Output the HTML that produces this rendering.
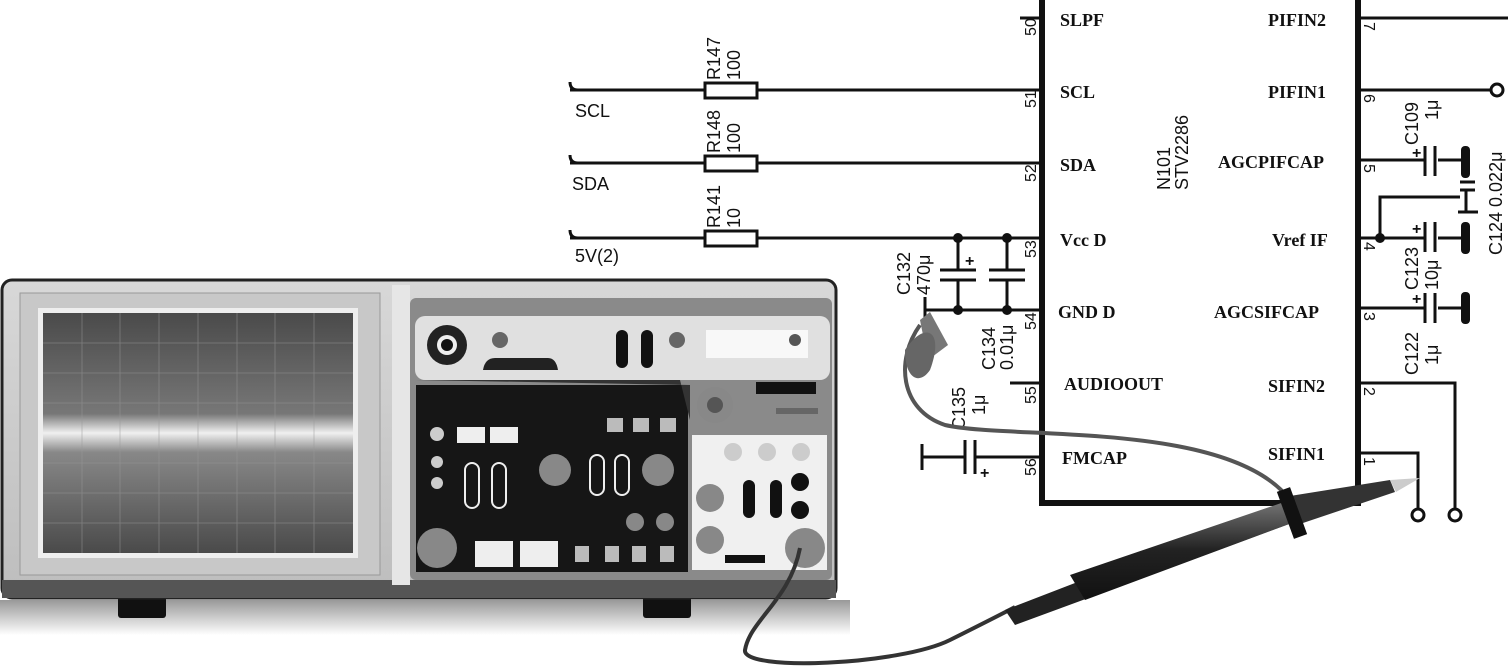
<!DOCTYPE html>
<html><head><meta charset="utf-8"><style>
html,body{margin:0;padding:0;background:#fff;width:1508px;height:669px;overflow:hidden}
svg{display:block}
.t{font-family:"Liberation Serif",serif;font-weight:bold;font-size:18px;fill:#111}
.s{font-family:"Liberation Sans",sans-serif;font-size:18px;fill:#111}
.n{font-family:"Liberation Sans",sans-serif;font-size:16px;fill:#111}
</style></head><body>
<svg width="1508" height="669" viewBox="0 0 1508 669" xmlns="http://www.w3.org/2000/svg">
<defs>
<linearGradient id="scr" x1="0" y1="0" x2="0" y2="1">
<stop offset="0" stop-color="#4a4a4a"/><stop offset="0.42" stop-color="#777"/><stop offset="0.5" stop-color="#f0f0f0"/><stop offset="0.58" stop-color="#888"/><stop offset="1" stop-color="#4a4a4a"/></linearGradient>
<linearGradient id="body" x1="0" y1="0" x2="0" y2="1"><stop offset="0" stop-color="#d8d8d8"/><stop offset="1" stop-color="#bdbdbd"/></linearGradient>
<linearGradient id="probe" x1="0" y1="0" x2="0" y2="1"><stop offset="0" stop-color="#777"/><stop offset="0.5" stop-color="#222"/><stop offset="1" stop-color="#111"/></linearGradient>
<linearGradient id="shadow" x1="0" y1="0" x2="0" y2="1"><stop offset="0" stop-color="#999"/><stop offset="1" stop-color="#fff"/></linearGradient>
</defs>
<g stroke="#111" stroke-width="3" fill="none">
<path d="M1042,0 V503 H1358 V0" stroke-width="6"/>
<line x1="570" y1="90" x2="1042" y2="90"/>
<line x1="570" y1="163" x2="1042" y2="163"/>
<line x1="570" y1="238" x2="1042" y2="238"/>
<path d="M570,82 Q570,90 578,90 M570,155 Q570,163 578,163 M570,230 Q570,238 578,238"/>
<line x1="1020" y1="18" x2="1042" y2="18"/>
<line x1="958" y1="238" x2="958" y2="270"/><line x1="958" y1="280" x2="958" y2="310"/>
<line x1="1007" y1="238" x2="1007" y2="270"/><line x1="1007" y1="280" x2="1007" y2="310"/>
<line x1="940" y1="270" x2="976" y2="270"/><line x1="940" y1="280" x2="976" y2="280"/>
<line x1="989" y1="270" x2="1025" y2="270"/><line x1="989" y1="280" x2="1025" y2="280"/>
<line x1="925" y1="310" x2="1042" y2="310"/><line x1="925" y1="297" x2="925" y2="322"/>
<line x1="1010" y1="383" x2="1042" y2="383"/>
<line x1="922" y1="457" x2="965" y2="457"/><line x1="975" y1="457" x2="1042" y2="457"/>
<line x1="922" y1="444" x2="922" y2="470"/>
<line x1="965" y1="440" x2="965" y2="474"/><line x1="975" y1="440" x2="975" y2="474"/>
<line x1="1358" y1="18" x2="1508" y2="18"/>
<line x1="1358" y1="90" x2="1490" y2="90"/>
<circle cx="1497" cy="90" r="6"/>
<line x1="1358" y1="160" x2="1425" y2="160"/><line x1="1438" y1="160" x2="1466" y2="160"/>
<line x1="1425" y1="146" x2="1425" y2="176"/><line x1="1435" y1="146" x2="1435" y2="176"/>
<line x1="1358" y1="238" x2="1425" y2="238"/><line x1="1438" y1="238" x2="1466" y2="238"/>
<line x1="1425" y1="222" x2="1425" y2="252"/><line x1="1435" y1="222" x2="1435" y2="252"/>
<path d="M1380,238 V197 H1460"/>
<line x1="1460" y1="182" x2="1475" y2="182"/><line x1="1460" y1="190" x2="1475" y2="190"/>
<line x1="1466" y1="190" x2="1466" y2="212"/><line x1="1458" y1="212" x2="1478" y2="212"/>
<line x1="1358" y1="308" x2="1425" y2="308"/><line x1="1438" y1="308" x2="1466" y2="308"/>
<line x1="1425" y1="293" x2="1425" y2="323"/><line x1="1435" y1="293" x2="1435" y2="323"/>
<path d="M1358,383 H1455 V508"/><circle cx="1455" cy="515" r="6"/>
<path d="M1358,453 H1418 V508"/><circle cx="1418" cy="515" r="6"/>
</g>
<g fill="#111">
<rect x="705" y="83" width="52" height="15" fill="#fff" stroke="#111" stroke-width="3"/>
<rect x="705" y="156" width="52" height="15" fill="#fff" stroke="#111" stroke-width="3"/>
<rect x="705" y="231" width="52" height="15" fill="#fff" stroke="#111" stroke-width="3"/>
<circle cx="958" cy="238" r="5"/><circle cx="1007" cy="238" r="5"/>
<circle cx="958" cy="310" r="5"/><circle cx="1007" cy="310" r="5"/>
<circle cx="1380" cy="238" r="5"/>
<rect x="1461" y="146" width="9" height="32" rx="4"/>
<rect x="1461" y="222" width="9" height="32" rx="4"/>
<rect x="1461" y="292" width="9" height="32" rx="4"/>
</g>
<text class="s" x="575" y="117">SCL</text>
<text class="s" x="572" y="190">SDA</text>
<text class="s" x="575" y="262">5V(2)</text>
<text class="s" transform="translate(720,80) rotate(-90)">R147</text>
<text class="s" transform="translate(740,80) rotate(-90)">100</text>
<text class="s" transform="translate(720,153) rotate(-90)">R148</text>
<text class="s" transform="translate(740,153) rotate(-90)">100</text>
<text class="s" transform="translate(720,228) rotate(-90)">R141</text>
<text class="s" transform="translate(740,228) rotate(-90)">10</text>
<text class="s" transform="translate(910,295) rotate(-90)">C132</text>
<text class="s" transform="translate(930,295) rotate(-90)">470μ</text>
<text class="s" transform="translate(995,370) rotate(-90)">C134</text>
<text class="s" transform="translate(1013,370) rotate(-90)">0.01μ</text>
<text class="s" transform="translate(965,430) rotate(-90)">C135</text>
<text class="s" transform="translate(985,415) rotate(-90)">1μ</text>
<text class="s" transform="translate(1170,190) rotate(-90)">N101</text>
<text class="s" transform="translate(1188,190) rotate(-90)">STV2286</text>
<text class="s" transform="translate(1418,145) rotate(-90)">C109</text>
<text class="s" transform="translate(1438,120) rotate(-90)">1μ</text>
<text class="s" transform="translate(1418,290) rotate(-90)">C123</text>
<text class="s" transform="translate(1438,290) rotate(-90)">10μ</text>
<text class="s" transform="translate(1418,375) rotate(-90)">C122</text>
<text class="s" transform="translate(1438,365) rotate(-90)">1μ</text>
<text class="s" transform="translate(1502,255) rotate(-90)">C124 0.022μ</text>
<g class="t">
<text x="1060" y="26">SLPF</text><text x="1060" y="98">SCL</text><text x="1060" y="171">SDA</text>
<text x="1060" y="246">Vcc D</text><text x="1058" y="318">GND D</text><text x="1064" y="390">AUDIOOUT</text>
<text x="1062" y="464">FMCAP</text>
<text x="1268" y="26">PIFIN2</text><text x="1268" y="98">PIFIN1</text><text x="1218" y="168">AGCPIFCAP</text>
<text x="1272" y="246">Vref IF</text><text x="1214" y="318">AGCSIFCAP</text><text x="1268" y="392">SIFIN2</text>
<text x="1268" y="460">SIFIN1</text>
</g>
<g class="n">
<text transform="translate(1036,36) rotate(-90)">50</text><text transform="translate(1036,108) rotate(-90)">51</text>
<text transform="translate(1036,182) rotate(-90)">52</text><text transform="translate(1036,258) rotate(-90)">53</text>
<text transform="translate(1036,330) rotate(-90)">54</text><text transform="translate(1036,404) rotate(-90)">55</text>
<text transform="translate(1036,476) rotate(-90)">56</text>
<text transform="translate(1364,22) rotate(90)">7</text><text transform="translate(1364,94) rotate(90)">6</text>
<text transform="translate(1364,164) rotate(90)">5</text><text transform="translate(1364,242) rotate(90)">4</text>
<text transform="translate(1364,312) rotate(90)">3</text><text transform="translate(1364,387) rotate(90)">2</text>
<text transform="translate(1364,457) rotate(90)">1</text>
<text x="965" y="266" font-weight="bold">+</text><text x="1412" y="158" font-weight="bold">+</text>
<text x="1412" y="234" font-weight="bold">+</text><text x="1412" y="304" font-weight="bold">+</text>
<text x="980" y="478" font-weight="bold">+</text>
</g>
<rect x="0" y="600" width="850" height="35" fill="url(#shadow)"/>
<rect x="118" y="590" width="48" height="28" fill="#111" rx="3"/>
<rect x="643" y="590" width="48" height="28" fill="#111" rx="3"/>
<rect x="2" y="280" width="834" height="318" rx="10" fill="url(#body)" stroke="#222" stroke-width="3"/>
<rect x="2" y="580" width="834" height="18" fill="#555"/>
<rect x="20" y="293" width="360" height="282" fill="#c8c8c8" stroke="#999"/>
<rect x="38" y="308" width="320" height="250" fill="#eee"/>
<rect x="43" y="313" width="310" height="240" fill="url(#scr)"/>
<g stroke="#999" stroke-width="0.8" opacity="0.6">
<line x1="43" y1="343" x2="353" y2="343"/><line x1="43" y1="373" x2="353" y2="373"/><line x1="43" y1="403" x2="353" y2="403"/>
<line x1="43" y1="463" x2="353" y2="463"/><line x1="43" y1="493" x2="353" y2="493"/><line x1="43" y1="523" x2="353" y2="523"/>
<line x1="82" y1="313" x2="82" y2="553"/><line x1="120" y1="313" x2="120" y2="553"/><line x1="159" y1="313" x2="159" y2="553"/>
<line x1="198" y1="313" x2="198" y2="553"/><line x1="237" y1="313" x2="237" y2="553"/><line x1="275" y1="313" x2="275" y2="553"/><line x1="314" y1="313" x2="314" y2="553"/>
</g>
<rect x="392" y="285" width="18" height="300" fill="#e6e6e6"/>
<rect x="410" y="298" width="422" height="282" rx="6" fill="#8a8a8a"/>
<rect x="415" y="316" width="415" height="64" rx="10" fill="#e0e0e0"/>
<rect x="416" y="385" width="272" height="187" fill="#161616"/>
<path d="M416,380 H680 L690,420 V385 Z" fill="#333"/>
<rect x="692" y="435" width="135" height="135" fill="#f0f0f0"/>
<circle cx="447" cy="345" r="20" fill="#222"/><circle cx="447" cy="345" r="10" fill="#eee"/><circle cx="447" cy="345" r="6" fill="#111"/>
<path d="M483,370 Q485,358 495,358 H548 Q556,358 558,370 Z" fill="#222"/>
<circle cx="500" cy="340" r="8" fill="#666"/><circle cx="677" cy="340" r="8" fill="#666"/>
<rect x="616" y="330" width="12" height="38" rx="6" fill="#111"/><rect x="641" y="330" width="12" height="38" rx="6" fill="#111"/>
<rect x="706" y="330" width="102" height="28" fill="#f8f8f8"/><circle cx="795" cy="340" r="6" fill="#555"/>
<circle cx="715" cy="405" r="18" fill="#888"/><circle cx="715" cy="405" r="8" fill="#555"/>
<rect x="756" y="382" width="60" height="12" fill="#111"/><rect x="776" y="408" width="42" height="6" fill="#666"/>
<g fill="#eee"><rect x="457" y="427" width="28" height="16"/><rect x="490" y="427" width="28" height="16"/>
<rect x="475" y="541" width="38" height="26"/><rect x="520" y="541" width="38" height="26"/></g>
<g fill="#bbb"><rect x="607" y="418" width="16" height="14"/><rect x="633" y="418" width="16" height="14"/><rect x="660" y="418" width="16" height="14"/>
<rect x="575" y="546" width="14" height="16"/><rect x="605" y="546" width="14" height="16"/><rect x="632" y="546" width="14" height="16"/><rect x="660" y="546" width="14" height="16"/></g>
<g fill="none" stroke="#eee" stroke-width="2"><rect x="465" y="463" width="14" height="45" rx="7"/><rect x="492" y="463" width="14" height="45" rx="7"/>
<rect x="590" y="455" width="14" height="40" rx="7"/><rect x="615" y="455" width="14" height="40" rx="7"/></g>
<g fill="#888"><circle cx="555" cy="470" r="16"/><circle cx="658" cy="470" r="16"/><circle cx="437" cy="548" r="20"/><circle cx="805" cy="548" r="20"/>
<circle cx="710" cy="498" r="14"/><circle cx="710" cy="540" r="14"/><circle cx="635" cy="522" r="9"/><circle cx="665" cy="522" r="9"/></g>
<g fill="#ccc"><circle cx="733" cy="452" r="9"/><circle cx="767" cy="452" r="9"/><circle cx="801" cy="452" r="9"/>
<circle cx="437" cy="434" r="7"/><circle cx="437" cy="462" r="6"/><circle cx="437" cy="483" r="6"/></g>
<g fill="#111"><rect x="743" y="480" width="12" height="38" rx="6"/><rect x="770" y="480" width="12" height="38" rx="6"/>
<rect x="725" y="555" width="40" height="8"/><circle cx="800" cy="482" r="9"/><circle cx="800" cy="510" r="9"/></g>
<path d="M800,548 C790,600 750,620 745,650 C742,672 900,665 950,640 C980,625 1000,615 1015,607" fill="none" stroke="#333" stroke-width="4"/>
<path d="M920,325 C895,360 900,410 945,425 C1010,440 1230,420 1290,500" fill="none" stroke="#555" stroke-width="4"/>
<path d="M920,320 L930,312 L948,345 L928,360 Z" fill="#777"/>
<path d="M905,350 C925,320 945,330 930,370 C920,385 905,380 905,350 Z" fill="#666"/>
<path d="M1005,610 L1290,500 L1300,520 L1015,625 Z" fill="#222"/>
<path d="M1070,575 L1290,500 L1300,520 L1085,600 Z" fill="url(#probe)"/>
<path d="M1290,496 L1390,480 L1395,492 L1300,524 Z" fill="#333"/>
<rect x="1285" y="488" width="14" height="50" fill="#111" transform="rotate(-20 1292 513)"/>
<path d="M1390,480 L1420,478 L1396,492 Z" fill="#ccc"/>
</svg>
</body></html>
